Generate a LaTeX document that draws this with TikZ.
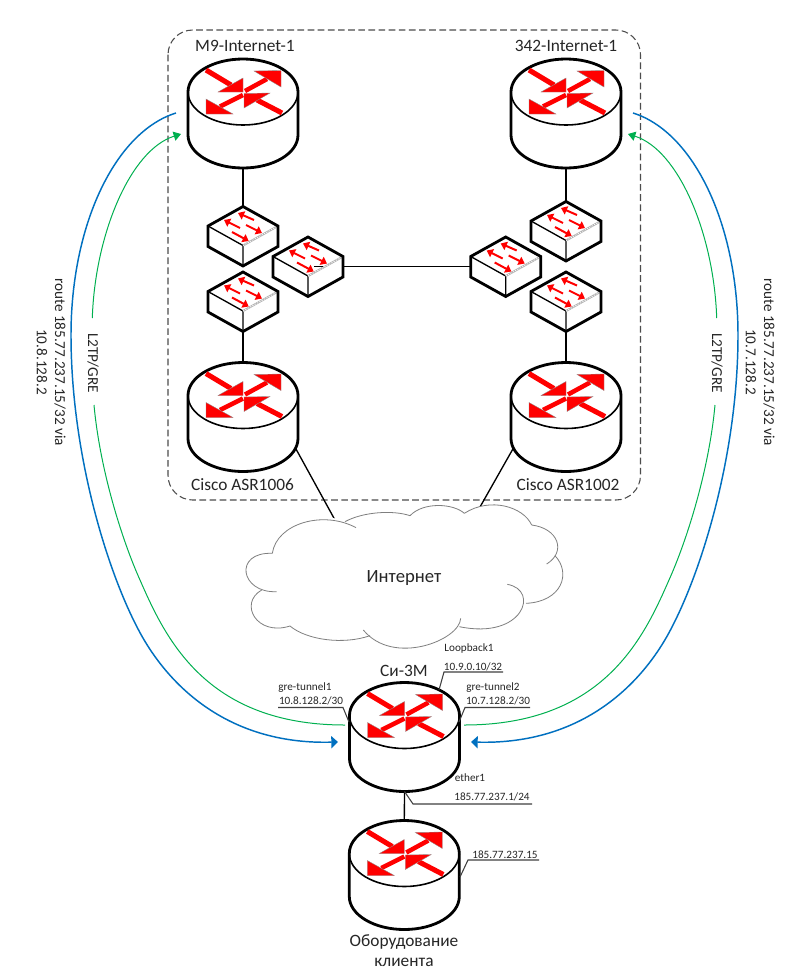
\documentclass[tikz,border=0pt]{standalone}
\usepackage{fontspec}
\setmainfont{Carlito}
\usetikzlibrary{arrows.meta}
\definecolor{rblue}{HTML}{0070C0}
\definecolor{rgreen}{HTML}{00B050}
\definecolor{rred}{HTML}{FF0000}
\definecolor{cloudgray}{HTML}{7F7F7F}
\newcommand{\bigfont}{\fontsize{13pt}{15pt}\selectfont}
\newcommand{\midfont}{\fontsize{11.4pt}{13pt}\selectfont}
\newcommand{\smallfont}{\fontsize{8.4pt}{10pt}\selectfont}
\tikzset{
  x=0.75pt,y=-0.75pt,
  every node/.style={inner sep=0pt,outer sep=0pt,text=black!85},
  lbl/.style={font=\bigfont,align=center},
  rlbl/.style={font=\midfont,rotate=-90},
  slbl/.style={font=\smallfont},
  link/.style={draw=black,line width=1pt},
  leader/.style={draw=black!75,line width=0.8pt},
  tunnelblue/.style={draw=rblue,line width=1.1pt},
  tunnelgreen/.style={draw=rgreen,line width=0.75pt},
  cloudline/.style={draw=cloudgray,line width=0.6pt},
  swarrow/.style={draw=rred,line width=1.5pt,-{Triangle[length=4.5pt,width=6.5pt,fill=rred]}},
  pics/router/.style={code={
    \coordinate (-top) at (0,-33);
    \coordinate (-bot) at (0,76);
    \fill[white] (-55,0) -- (-55,43) .. controls (-55,61.2) and (-30.4,76) .. (0,76) .. controls (30.4,76) and (55,61.2) .. (55,43) -- (55,0) .. controls (55,-18.2) and (30.4,-33) .. (0,-33) .. controls (-30.4,-33) and (-55,-18.2) .. (-55,0) -- cycle;
    \draw[line width=1.2pt] (-55,0) .. controls (-55,18.2) and (-30.4,33) .. (0,33) .. controls (30.4,33) and (55,18.2) .. (55,0);
    \draw[line width=2.1pt] (-55,0) -- (-55,43) .. controls (-55,61.2) and (-30.4,76) .. (0,76) .. controls (30.4,76) and (55,61.2) .. (55,43) -- (55,0) .. controls (55,-18.2) and (30.4,-33) .. (0,-33) .. controls (-30.4,-33) and (-55,-18.2) .. (-55,0) -- cycle;
    \draw[rred,line width=3.8pt] (-37,-22) -- (-12,-7);
    \filldraw[fill=rred,draw=black!45,line width=0.25pt] (0,0) -- (0,-14) -- (-25,0) -- cycle;
    \draw[rred,line width=3.4pt] (2,-1) -- (24,-13);
    \filldraw[fill=rred,draw=black!45,line width=0.25pt] (38,-21.5) -- (11,-21) -- (38,-5) -- cycle;
    \draw[rred,line width=3.4pt] (0,3) -- (-23,14.5);
    \filldraw[fill=rred,draw=black!45,line width=0.25pt] (-37,22) -- (-37,7) -- (-10,22) -- cycle;
    \draw[rred,line width=3.8pt] (39,21) -- (14,8);
    \filldraw[fill=rred,draw=black!45,line width=0.25pt] (1,1.5) -- (27,1) -- (1,16) -- cycle;
  }},
  pics/netswitch/.style={code={
    \coordinate (-top) at (0,-19.5);
    \coordinate (-bot) at (0,40);
    \coordinate (-left) at (-35,10);
    \coordinate (-right) at (35,10);
    \fill[white] (0,-19.5) -- (35,0) -- (35,20.5) -- (0,40) -- (-35,20.5) -- (-35,0) -- cycle;
    \draw[line width=1pt] (-35,0) -- (0,19.5) -- (0,40);
    \draw[black!30,line width=1.5pt] (0,19.5) -- (35,0);
    \draw[white,line width=0.5pt,dash pattern=on 1pt off 1pt] (0,19.5) -- (35,0);
    \draw[line width=2.1pt,line join=miter] (0,-19.5) -- (35,0) -- (35,20.5) -- (0,40) -- (-35,20.5) -- (-35,0) -- cycle;
    \draw[swarrow] (11,-6) -- (-5,-13);
    \draw[swarrow] (-3,2) -- (-19,-6);
    \draw[swarrow] (3,-1) -- (19,7);
    \draw[swarrow] (-11,6) -- (5.7,15);
  }},
}
\begin{document}
\begin{tikzpicture}
\useasboundingbox (0,0) rectangle (794,979);
\fill[white] (0,0) rectangle (794,979);

% enclosure
\draw[black!70,line width=0.8pt,dash pattern=on 5pt off 2.6pt,rounded corners=18.5pt] (168,30) rectangle (640.5,500);

% free connector ends
\coordinate (cloudL) at (335,520);
\coordinate (cloudR) at (480,507);
\coordinate (asr6out) at (296,449);
\coordinate (asr2out) at (514,447);

% connectors to the cloud
\draw[link] (asr6out) -- (cloudL);
\draw[link] (asr2out) -- (cloudR);

% routers
\pic (m9) at (243,92) {router};
\pic (i342) at (566,92) {router};
\pic (asr6) at (243,395.5) {router};
\pic (asr2) at (566,395.5) {router};
\pic (si) at (404.5,715.5) {router};
\pic (cl) at (404.3,853.5) {router};

% switches
\pic (swA) at (243,226) {netswitch};
\pic (swC) at (243,291.5) {netswitch};
\pic (swB) at (308,256.5) {netswitch};
\pic (swD) at (566,221) {netswitch};
\pic (swF) at (566,291.5) {netswitch};
\pic (swE) at (505.7,256.5) {netswitch};
\draw[link] (m9-bot) -- (swA-top);
\draw[link] (i342-bot) -- (swD-top);
\draw[link] (swC-bot) -- (asr6-top);
\draw[link] (swF-bot) -- (asr2-top);
\draw[link,xshift=-0.75pt] (si-bot) -- (cl-top);
\draw[link] (swB-right) -- (swE-left);
\coordinate (stubA) at (314,266.5);
\coordinate (stubB) at (323,266.5);
\draw[link] (stubA) -- (stubB);

% cloud
\begin{scope}[shift={(230,490)},x=0.25pt,y=-0.25pt]
\fill[white] (127,190) .. controls (140,100) and (280,60) .. (345,95) .. controls (400,65) and (490,60) .. (540,77) .. controls (580,35) and (670,40) .. (703,70) .. controls (780,20) and (880,50) .. (905,105) .. controls (985,115) and (1010,185) .. (975,197) .. controls (1025,250) and (995,335) .. (888,340) -- (860,390) -- (688,410) .. controls (690,450) and (490,530) .. (420,437) .. controls (340,465) and (230,450) .. (180,408) .. controls (80,440) and (25,340) .. (95,300) .. controls (30,290) and (10,185) .. (127,190) -- cycle;
\draw[cloudline] (127,190) .. controls (140,100) and (280,60) .. (378,113);
\draw[cloudline] (345,95) .. controls (400,65) and (490,60) .. (540,77);
\draw[cloudline] (540,77) .. controls (580,35) and (670,40) .. (703,70);
\draw[cloudline] (703,70) .. controls (780,20) and (880,50) .. (905,105);
\draw[cloudline] (905,105) .. controls (985,115) and (1010,185) .. (950,222);
\draw[cloudline] (975,197) .. controls (1025,250) and (995,335) .. (888,340);
\draw[cloudline] (832,283) .. controls (930,300) and (880,450) .. (688,410);
\draw[cloudline] (692,385) .. controls (690,450) and (490,530) .. (400,420);
\draw[cloudline] (420,437) .. controls (340,465) and (230,450) .. (180,408);
\draw[cloudline] (180,408) .. controls (80,440) and (25,340) .. (95,300);
\draw[cloudline] (140,305) .. controls (30,310) and (10,185) .. (127,190);
\end{scope}
\node[lbl,font=\fontsize{14pt}{16pt}\selectfont] (inet) at (404,578) {Интернет};

% tunnel end points
\coordinate (lbS) at (176,113);
\coordinate (lbE) at (338,742);
\coordinate (rbS) at (633,113);
\coordinate (rbE) at (471,742);
\coordinate (lgT) at (181,134);
\coordinate (lgU) at (92.3,318);
\coordinate (lgL) at (94,405);
\coordinate (lgB) at (345,725);
\coordinate (rgT) at (628,134);
\coordinate (rgU) at (716.7,318);
\coordinate (rgL) at (715,405);
\coordinate (rgB) at (464,725);

% tunnels, left
\draw[tunnelblue,-{Triangle[length=5pt,width=9pt,fill=rblue]}] (lbS) .. controls (115,132) and (71,225) .. (71,335) .. controls (71,450) and (105,565) .. (137,627) .. controls (165,682) and (225,745) .. (lbE);
\draw[tunnelgreen,-{Triangle[length=5.5pt,width=7pt,fill=rgreen]}] (lgU) .. controls (95,235) and (130,150) .. (lgT);
\draw[tunnelgreen] (lgL) .. controls (100,470) and (122,540) .. (140,580) .. controls (165,637) and (205,725) .. (lgB);
% tunnels, right
\draw[tunnelblue,-{Triangle[length=5pt,width=9pt,fill=rblue]}] (rbS) .. controls (694,132) and (738,225) .. (738,335) .. controls (738,450) and (704,565) .. (672,627) .. controls (644,682) and (584,745) .. (rbE);
\draw[tunnelgreen,-{Triangle[length=5.5pt,width=7pt,fill=rgreen]}] (rgU) .. controls (714,235) and (679,150) .. (rgT);
\draw[tunnelgreen] (rgL) .. controls (709,470) and (687,540) .. (669,580) .. controls (644,637) and (604,725) .. (rgB);

% labels of routers
\node[lbl] (tm9) at (245,46) {M9-Internet-1};
\node[lbl] (t342) at (566,46) {342-Internet-1};
\node[lbl] (t1006) at (242.5,485) {Cisco ASR1006};
\node[lbl] (t1002) at (568,485) {Cisco ASR1002};
\node[lbl] (tsi) at (404,671) {Си-3М};
\node[lbl,align=center] (tcl) at (404,951) {Оборудование\\клиента};

% rotated labels
\node[rlbl] (lr) at (60,362) {route 185.77.237.15/32 via};
\node[rlbl] (lv) at (42,362) {10.8.128.2};
\node[rlbl] (ll) at (93,363) {L2TP/GRE};
\node[rlbl] (rr) at (769,362) {route 185.77.237.15/32 via};
\node[rlbl] (rv) at (751,362) {10.7.128.2};
\node[rlbl] (rl) at (717,363) {L2TP/GRE};

% small labels and leaders
\coordinate (lpA) at (503,672);
\coordinate (lpB) at (444,672);
\coordinate (lpC) at (439,690);
\coordinate (g1A) at (278,707.5);
\coordinate (g1B) at (343,707.5);
\coordinate (g1C) at (349,722);
\coordinate (g2A) at (530,707.5);
\coordinate (g2B) at (465,707.5);
\coordinate (g2C) at (459,722);
\coordinate (ethB) at (413,804);
\coordinate (ethC) at (532,804);
\coordinate (clA) at (539,860);
\coordinate (clB) at (468,860);
\coordinate (clC) at (460,877);
\node[slbl] (loop) at (469,649) {Loopback1};
\node[slbl] (loopip) at (473,667) {10.9.0.10/32};
\draw[leader] (lpA) -- (lpB) -- (lpC);
\node[slbl] (g1) at (305,688) {gre-tunnel1};
\node[slbl] (g1ip) at (311,701) {10.8.128.2/30};
\draw[leader] (g1A) -- (g1B) -- (g1C);
\node[slbl] (g2) at (493,688) {gre-tunnel2};
\node[slbl] (g2ip) at (498,701) {10.7.128.2/30};
\draw[leader] (g2A) -- (g2B) -- (g2C);
\node[slbl] (eth) at (470,778) {ether1};
\node[slbl] (ethip) at (492,797) {185.77.237.1/24};
\draw[leader] (si-bot) -- (ethB) -- (ethC);
\node[slbl] (clip) at (505,855) {185.77.237.15};
\draw[leader] (clA) -- (clB) -- (clC);
\end{tikzpicture}
\end{document}
